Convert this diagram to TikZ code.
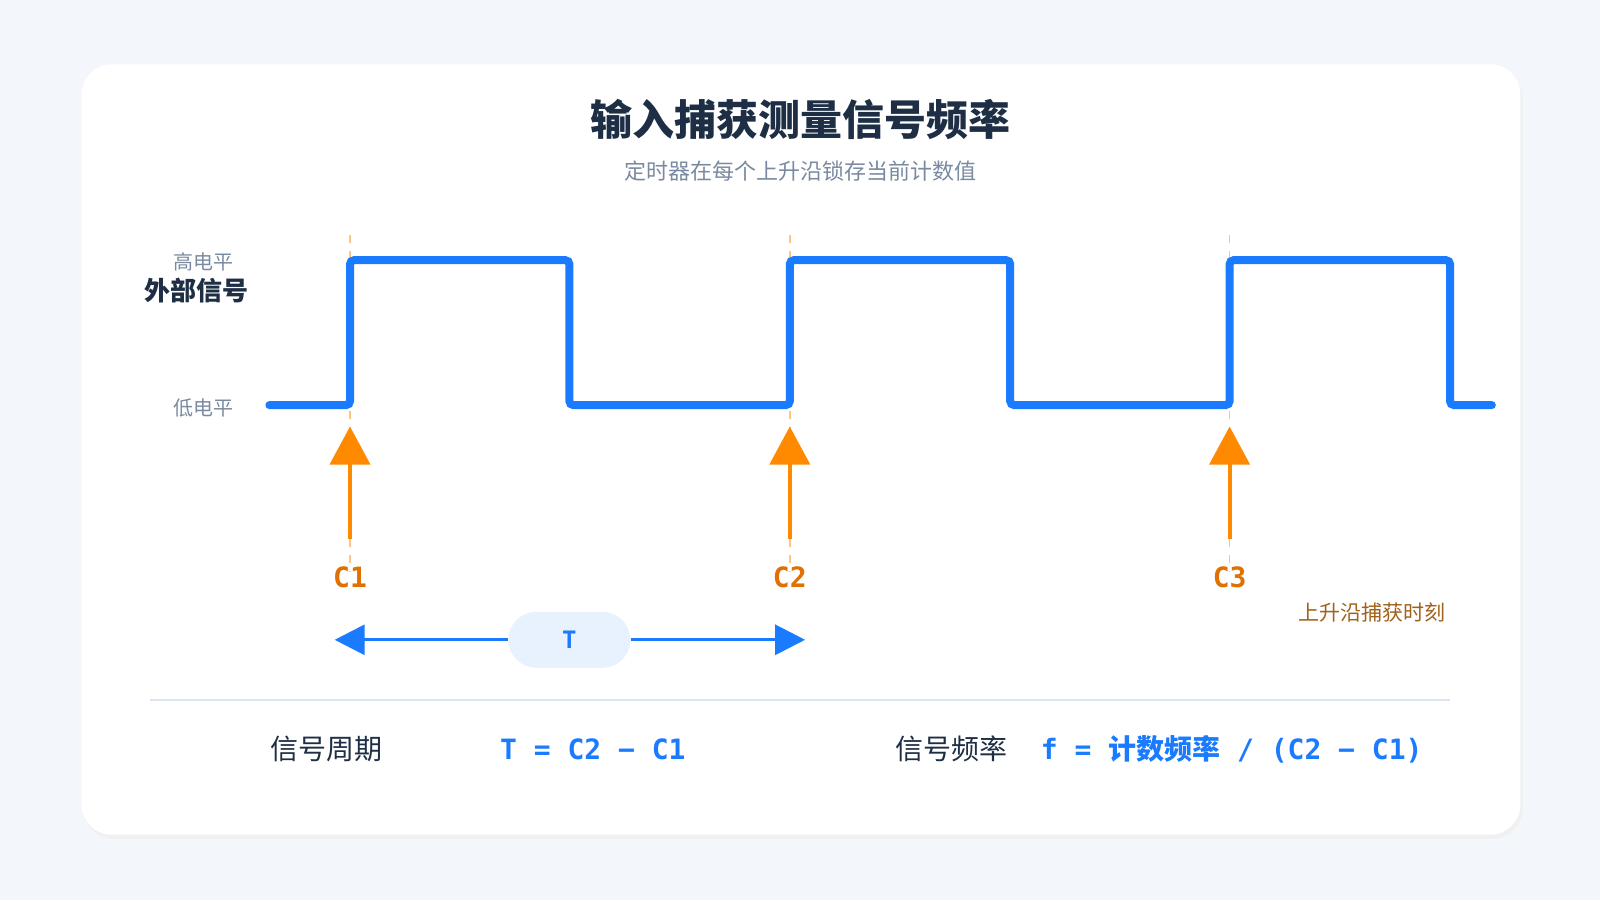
\documentclass[tikz,border=0pt]{standalone}
\usepackage{fontspec}
\setmainfont{Noto Sans CJK SC}
\newfontfamily\cjk{Noto Sans CJK SC}
\setmonofont{DejaVu Sans Mono}
\usetikzlibrary{arrows.meta}
\definecolor{sigblue}{HTML}{1A7BFF}
\definecolor{edgeor}{HTML}{FF8A00}
\definecolor{labor}{HTML}{E07000}
\definecolor{inkdark}{HTML}{1E2F45}
\definecolor{inkgray}{HTML}{7A8AA0}
\definecolor{pagebg}{HTML}{F3F7FC}
\definecolor{pillbg}{HTML}{E8F2FF}
\definecolor{rulegray}{HTML}{DCE6F0}
\definecolor{brownlab}{HTML}{A0621A}
\begin{document}
\begin{tikzpicture}
[
x=0.5102pt, y=-0.5102pt,
title/.style={font=\bfseries\fontsize{21}{24}\selectfont, text=inkdark},
subtitle/.style={font=\fontsize{11}{13}\selectfont, text=inkgray},
level/.style={font=\fontsize{10}{12}\selectfont, text=inkgray},
capt/.style={font=\ttfamily\bfseries\fontsize{14}{16}\selectfont, text=labor},
formula/.style={font=\ttfamily\bfseries\fontsize{14}{16}\selectfont, text=sigblue},
plain/.style={font=\fontsize{14}{16}\selectfont, text=inkdark},
pill/.style={rectangle, rounded corners=14pt, fill=pillbg, minimum width=61pt, minimum height=28pt, font=\ttfamily\bfseries\fontsize{12}{14}\selectfont, text=sigblue},
risearrow/.style={draw=edgeor, line width=2pt, -{Triangle[length=19pt,width=20pt]}},
capline/.style={draw=edgeor!50, line width=0.8pt, dash pattern=on 4pt off 4pt},
]
\fill[pagebg] (0,0) rectangle (1568,882);
\fill[black!6, rounded corners=15pt] (82,67) rectangle (1492,822);
\fill[white, rounded corners=15pt] (80,63) rectangle (1490,818);
\useasboundingbox (0,0) rectangle (1568,882);

\node[title] (head) at (784,117) {输入捕获测量信号频率};
\node[subtitle] (sub) at (784,168) {定时器在每个上升沿锁存当前计数值};

\node[level] (hi) at (199,257) {高电平};
\node[font=\bfseries\fontsize{13}{15}\selectfont, text=inkdark] (sig) at (193,285) {外部信号};
\node[level] (lo) at (199,400) {低电平};

% capture moments
\foreach \x/\n in {343/1, 774/2, 1205/3} {
  \draw[capline] (\x,230) -- (\x,560);
  \coordinate (tail\n) at (\x,528);
  \coordinate (tip\n) at (\x,418);
  \draw[risearrow] (tail\n) -- (tip\n);
  \node[capt] (c\n) at (\x,566) {C\n};
}

\draw[sigblue, line width=4pt, line cap=round, rounded corners=2pt]
  (264,397) -- (343,397) -- (343,255) -- (558,255) -- (558,397) -- (774,397)
  -- (774,255) -- (990,255) -- (990,397) -- (1205,397) -- (1205,255)
  -- (1421,255) -- (1421,397) -- (1462,397);

\node[font=\fontsize{10.5}{12}\selectfont, text=brownlab] (note) at (1345,600) {上升沿捕获时刻};

\node[pill] (per) at (558,627) {T};
\coordinate (pl) at (328,627);
\coordinate (pr) at (789,627);
\draw[sigblue, line width=1.5pt, {Triangle[length=15pt,width=15pt]}-] (pl) -- (per.west);
\draw[sigblue, line width=1.5pt, -{Triangle[length=15pt,width=15pt]}] (per.east) -- (pr);

\coordinate (rl) at (147,686);
\coordinate (rr) at (1421,686);
\draw[rulegray, line width=1pt] (rl) -- (rr);

\node[plain] (lp) at (320,734) {信号周期};
\node[formula] (fp) at (581,734) {T = C2 − C1};
\node[plain] (lf) at (932,734) {信号频率};
\node[formula] (ff) at (1207,734) {f = {\cjk\bfseries 计数频率} / (C2 − C1)};
\end{tikzpicture}
\end{document}
